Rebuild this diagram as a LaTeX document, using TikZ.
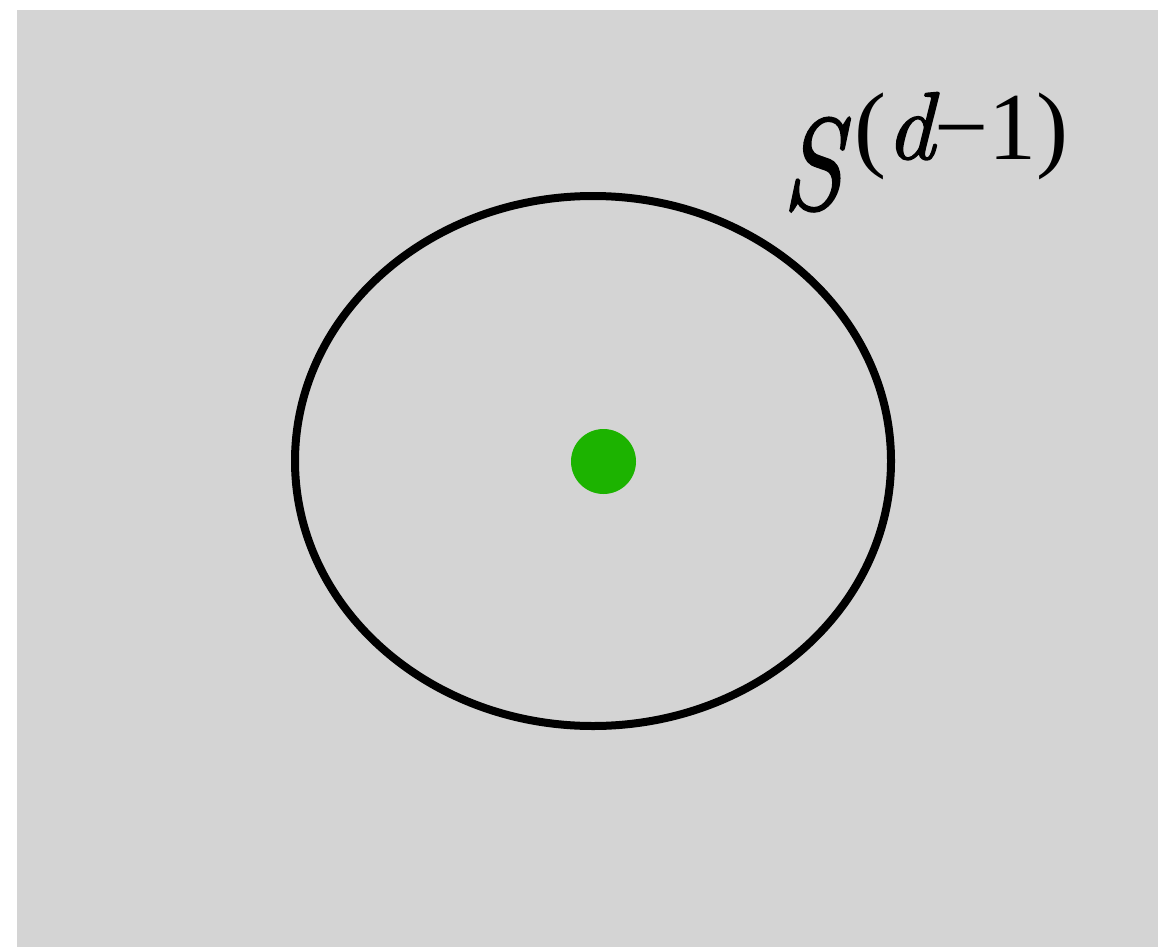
\documentclass[tikz,border=0pt]{standalone}
\usepackage{fontspec}
\newfontfamily\lserif{Liberation Serif}
\newfontfamily\lmit{Latin Modern Roman}[FakeBold=1.6]
\usetikzlibrary{shapes.geometric}
\definecolor{bg}{RGB}{212,212,212}
\definecolor{dotgreen}{RGB}{28,179,0}
\tikzset{lbl/.style={inner sep=0pt, anchor=base west, text=black}}
\begin{document}
\begin{tikzpicture}[x=1pt,y=-1pt]
\useasboundingbox (0,0) rectangle (1158,947);
\fill[bg] (17,10) rectangle (1158,947);
\node[draw=black, line width=8pt, ellipse, minimum width=596pt, minimum height=530pt, inner sep=0pt, outer sep=0pt] (sphere) at (593,461) {};
\node[fill=dotgreen, circle, minimum size=65pt, inner sep=0pt] (dot) at (603.5,461.5) {};
\node[lbl, font=\lmit\fontsize{130}{136}\selectfont\itshape] (S) at (782,209) {\scalebox{0.84}[1]{S}};
\node[lbl, font=\lserif\fontsize{96}{100}\selectfont] (sup) at (854,159) {({\lmit\itshape d}−1)};
\end{tikzpicture}
\end{document}
